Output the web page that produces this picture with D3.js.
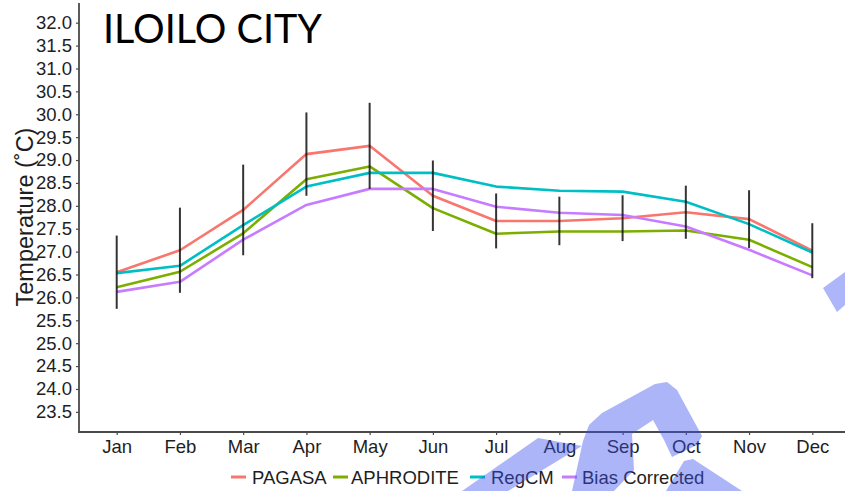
<!DOCTYPE html>
<html>
<head>
<meta charset="utf-8">
<script src="https://cdn.jsdelivr.net/npm/d3@7"></script>
<style>
  html, body { margin: 0; padding: 0; background: #fff; }
  svg { display: block; font-family: "Liberation Sans", Arial, Helvetica, sans-serif; }
</style>
</head>
<body>
<svg id="chart" width="845" height="491"></svg>
<script>
// Monthly mean temperature, Iloilo City
const months = ["Jan","Feb","Mar","Apr","May","Jun","Jul","Aug","Sep","Oct","Nov","Dec"];
const pagasa    = [26.55, 27.03, 27.91, 29.13, 29.31, 28.22, 27.67, 27.67, 27.73, 27.86, 27.71, 27.02];
const aphrodite = [26.22, 26.56, 27.40, 28.58, 28.86, 27.95, 27.39, 27.44, 27.44, 27.46, 27.26, 26.66];
const regcm     = [26.53, 26.69, 27.58, 28.42, 28.72, 28.72, 28.42, 28.33, 28.31, 28.09, 27.60, 26.98];
const biasCorr  = [26.12, 26.34, 27.26, 28.02, 28.37, 28.37, 27.98, 27.85, 27.80, 27.55, 27.04, 26.48];
// spread of the PAGASA observations (± one standard deviation)
const pagasaSd  = [0.80, 0.93, 0.99, 0.91, 0.94, 0.77, 0.60, 0.53, 0.50, 0.58, 0.63, 0.60];
const seriesNames = ["PAGASA", "APHRODITE", "RegCM", "Bias Corrected"];
const seriesColors = ["#F8766D", "#7CAE00", "#00BFC4", "#C77CFF"];
const yTicks = d3.range(23.5, 32.01, 0.5);

const seriesValues = [pagasa, aphrodite, regcm, biasCorr];

const svg = d3.select("#chart");
const textColor = "#1e1e1e";
const axisColor = "#4a4a4a";

const x = d3.scalePoint().domain(months).range([116.7, 812.3]);
const y = d3.scaleLinear().domain([23.06, 32.43]).range([432, 3]);

// axes
const yAxis = svg.append("g")
  .attr("transform", "translate(79,0)")
  .call(d3.axisLeft(y).tickValues(yTicks).tickFormat(d3.format(".1f")).tickSize(3).tickPadding(4).tickSizeOuter(0));
const xAxis = svg.append("g")
  .attr("transform", "translate(0,432)")
  .call(d3.axisBottom(x).tickSize(3).tickPadding(5).tickSizeOuter(0));

[yAxis, xAxis].forEach(g => {
  g.select(".domain").remove();
  g.selectAll(".tick line").attr("stroke", axisColor).attr("stroke-width", 1.2);
  g.selectAll(".tick text")
    .attr("fill", textColor)
    .attr("font-size", 18.5)
    .attr("font-family", "Liberation Sans, Arial, sans-serif");
});

// axis lines
svg.append("line").attr("x1", 79).attr("x2", 79).attr("y1", 3).attr("y2", 432.5)
  .attr("stroke", axisColor).attr("stroke-width", 1.8);
svg.append("line").attr("x1", 78.1).attr("x2", 845).attr("y1", 432).attr("y2", 432)
  .attr("stroke", axisColor).attr("stroke-width", 1.8);

// y axis title
svg.append("text")
  .attr("transform", "translate(33,217) rotate(-90)")
  .attr("text-anchor", "middle")
  .attr("font-size", 23.5)
  .attr("fill", textColor)
  .text("Temperature (˚C)");

// series lines
const line = d3.line().x((d, i) => x(months[i])).y(d => y(d));
seriesValues.forEach((vals, k) => {
  svg.append("path")
    .datum(vals)
    .attr("fill", "none")
    .attr("stroke", seriesColors[k])
    .attr("stroke-width", 2.6)
    .attr("stroke-linejoin", "round")
    .attr("d", line);
});

// error bars around PAGASA
svg.append("g").selectAll("line")
  .data(months)
  .join("line")
  .attr("x1", d => x(d)).attr("x2", d => x(d))
  .attr("y1", (d, i) => y(pagasa[i] + pagasaSd[i]))
  .attr("y2", (d, i) => y(pagasa[i] - pagasaSd[i]))
  .attr("stroke", "#111")
  .attr("stroke-opacity", 0.85)
  .attr("stroke-width", 2);

// legend
const legendItems = [
  { key: 231, text: 252 },
  { key: 333, text: 351 },
  { key: 470, text: 491 },
  { key: 562, text: 582 }
];
const legend = svg.append("g");
seriesNames.forEach((name, k) => {
  legend.append("line")
    .attr("x1", legendItems[k].key).attr("x2", legendItems[k].key + 15)
    .attr("y1", 477).attr("y2", 477)
    .attr("stroke", seriesColors[k]).attr("stroke-width", 3);
  legend.append("text")
    .attr("x", legendItems[k].text).attr("y", 483.5)
    .attr("font-size", 18.5)
    .attr("fill", textColor)
    .text(name);
});

// chart title
svg.append("text")
  .attr("x", 103).attr("y", 42.7)
  .attr("font-family", "Lato, 'Open Sans', sans-serif")
  .attr("font-size", 41)
  .attr("textLength", 219)
  .attr("lengthAdjust", "spacingAndGlyphs")
  .attr("fill", "#000")
  .text("ILOILO CITY");

// translucent blue stamp strokes laid over the figure
const stamp = svg.append("g").attr("opacity", 0.42).attr("fill", "#3c50f0");
const stampShapes = [
  [[462,491],[538,438],[582,446],[508,491]],
  [[572,491],[583,441],[589,425],[602,413],[655,384],[667,382],[677,390],[702,436],[697,445],[672,457],[664,440],[653,420],[632,434],[634,470],[614,491]],
  [[666,491],[684,461],[693,459],[742,491]],
  [[823,288],[845,272],[845,305],[837,312]]
];
stamp.selectAll("path")
  .data(stampShapes)
  .join("path")
  .attr("d", d => d3.line().curve(d3.curveLinearClosed)(d));
</script>
</body>
</html>
